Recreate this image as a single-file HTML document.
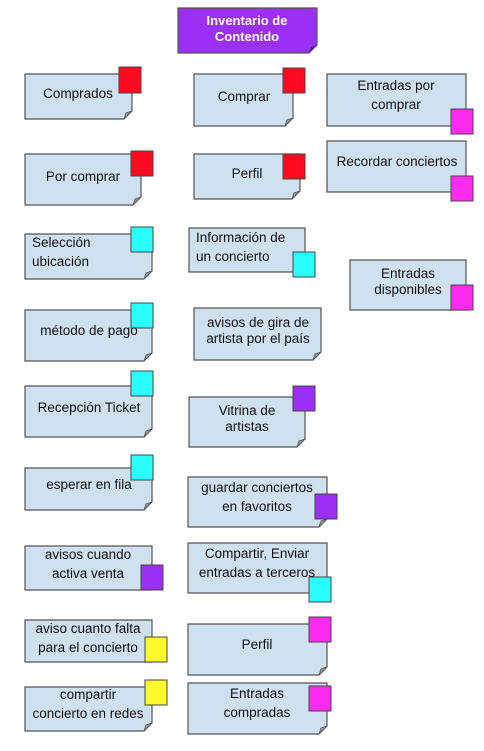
<!DOCTYPE html>
<html><head><meta charset="utf-8"><style>
html,body{margin:0;padding:0;background:#fff;width:484px;height:751px;overflow:hidden}
svg{display:block}
text{font-family:"Liberation Sans",Arial,sans-serif;font-size:13.5px;fill:#111}
.b{fill:#cfe0f1;stroke:#555;stroke-width:1.2}
.f{fill:#999;stroke:#555;stroke-width:0.8}
.s{stroke:#444;stroke-width:1}
</style></head><body>
<svg width="484" height="751" viewBox="0 0 484 751">
<path d="M178,8H317V45L309,53H178Z" fill="#9b2ff5" stroke="#555" stroke-width="1.2"/>
<path d="M317,45L309,53L311,47Z" fill="#5a1a9a"/>
<text x="247" y="25" text-anchor="middle" style="font-weight:bold;fill:#fff;font-size:13px">Inventario de</text>
<text x="247" y="41" text-anchor="middle" style="font-weight:bold;fill:#fff;font-size:13px">Contenido</text>

<path class="b" d="M25,74H132V111L124,119H25Z"/><path class="f" d="M132,111L124,119L126,113Z"/>
<rect class="s" x="119" y="67" width="22" height="26" fill="#ff0a1e"/>
<text x="78" y="98" text-anchor="middle">Comprados</text>
<path class="b" d="M194,74H293V118L285,126H194Z"/><path class="f" d="M293,118L285,126L287,120Z"/>
<rect class="s" x="283" y="68" width="22" height="25" fill="#ff0a1e"/>
<text x="244" y="101" text-anchor="middle">Comprar</text>
<path class="b" d="M327,74H466V126H327Z"/>
<rect class="s" x="451" y="109" width="22" height="25" fill="#ff2af0"/>
<text x="396" y="90" text-anchor="middle">Entradas por</text>
<text x="396" y="109" text-anchor="middle">comprar</text>
<path class="b" d="M25,154H141V197L133,205H25Z"/><path class="f" d="M141,197L133,205L135,199Z"/>
<rect class="s" x="131" y="151" width="22" height="25" fill="#ff0a1e"/>
<text x="83" y="181" text-anchor="middle">Por comprar</text>
<path class="b" d="M194,154H300V191L292,199H194Z"/><path class="f" d="M300,191L292,199L294,193Z"/>
<rect class="s" x="283" y="154" width="22" height="25" fill="#ff0a1e"/>
<text x="247" y="178" text-anchor="middle">Perfil</text>
<path class="b" d="M327,141H466V192H327Z"/>
<rect class="s" x="451" y="176" width="22" height="25" fill="#ff2af0"/>
<text x="397" y="166" text-anchor="middle">Recordar conciertos</text>

<path class="b" d="M25,234H152V271L144,279H25Z"/><path class="f" d="M152,271L144,279L146,273Z"/>
<rect class="s" x="131" y="227" width="22" height="25" fill="#2affff"/>
<text x="32" y="247">Selección</text>
<text x="32" y="266">ubicación</text>
<path class="b" d="M189,228H305V272H189Z"/>
<rect class="s" x="293" y="252" width="22" height="25" fill="#2affff"/>
<text x="196" y="242">Información de</text>
<text x="196" y="261">un concierto</text>
<path class="b" d="M350,260H466V310H350Z"/>
<rect class="s" x="451" y="285" width="22" height="25" fill="#ff2af0"/>
<text x="408" y="278" text-anchor="middle">Entradas</text>
<text x="408" y="294" text-anchor="middle">disponibles</text>

<path class="b" d="M25,310H152V353L144,361H25Z"/><path class="f" d="M152,353L144,361L146,355Z"/>
<rect class="s" x="131" y="303" width="22" height="25" fill="#2affff"/>
<text x="89" y="335" text-anchor="middle">método de pago</text>
<path class="b" d="M194,308H321V352L313,360H194Z"/><path class="f" d="M321,352L313,360L315,354Z"/>
<text x="258" y="327" text-anchor="middle">avisos de gira de</text>
<text x="258" y="343" text-anchor="middle">artista por el país</text>

<path class="b" d="M25,386H152V429L144,437H25Z"/><path class="f" d="M152,429L144,437L146,431Z"/>
<rect class="s" x="131" y="371" width="22" height="25" fill="#2affff"/>
<text x="89" y="412" text-anchor="middle">Recepción Ticket</text>
<path class="b" d="M189,397H305V439L297,447H189Z"/><path class="f" d="M305,439L297,447L299,441Z"/>
<rect class="s" x="293" y="386" width="22" height="25" fill="#9b2ff5"/>
<text x="247" y="415" text-anchor="middle">Vitrina de</text>
<text x="247" y="431" text-anchor="middle">artistas</text>

<path class="b" d="M25,468H152V502L144,510H25Z"/><path class="f" d="M152,502L144,510L146,504Z"/>
<rect class="s" x="131" y="455" width="22" height="25" fill="#2affff"/>
<text x="89" y="489" text-anchor="middle">esperar en fila</text>
<path class="b" d="M188,477H327V519L319,527H188Z"/><path class="f" d="M327,519L319,527L321,521Z"/>
<rect class="s" x="315" y="494" width="22" height="25" fill="#9b2ff5"/>
<text x="257" y="492" text-anchor="middle">guardar conciertos</text>
<text x="257" y="511" text-anchor="middle">en favoritos</text>

<path class="b" d="M25,546H152V590H25Z"/>
<rect class="s" x="141" y="565" width="22" height="25" fill="#9b2ff5"/>
<text x="88" y="559" text-anchor="middle">avisos cuando</text>
<text x="88" y="578" text-anchor="middle">activa venta</text>
<path class="b" d="M188,543H327V593H188Z"/>
<rect class="s" x="309" y="577" width="22" height="25" fill="#2affff"/>
<text x="257" y="558" text-anchor="middle">Compartir, Enviar</text>
<text x="257" y="577" text-anchor="middle">entradas a terceros</text>

<path class="b" d="M25,620H152V662H25Z"/>
<rect class="s" x="145" y="637" width="22" height="25" fill="#fffb2a"/>
<text x="88" y="633" text-anchor="middle">aviso cuanto falta</text>
<text x="88" y="652" text-anchor="middle">para el concierto</text>
<path class="b" d="M188,624H327V667L319,675H188Z"/><path class="f" d="M327,667L319,675L321,669Z"/>
<rect class="s" x="309" y="617" width="22" height="25" fill="#ff2af0"/>
<text x="257" y="649" text-anchor="middle">Perfil</text>

<path class="b" d="M25,687H152V723L144,731H25Z"/><path class="f" d="M152,723L144,731L146,725Z"/>
<rect class="s" x="145" y="680" width="22" height="25" fill="#fffb2a"/>
<text x="88" y="699" text-anchor="middle">compartir</text>
<text x="88" y="718" text-anchor="middle">concierto en redes</text>
<path class="b" d="M188,683H327V726L319,734H188Z"/><path class="f" d="M327,726L319,734L321,728Z"/>
<rect class="s" x="309" y="686" width="22" height="25" fill="#ff2af0"/>
<text x="257" y="698" text-anchor="middle">Entradas</text>
<text x="257" y="717" text-anchor="middle">compradas</text>
</svg>
</body></html>
